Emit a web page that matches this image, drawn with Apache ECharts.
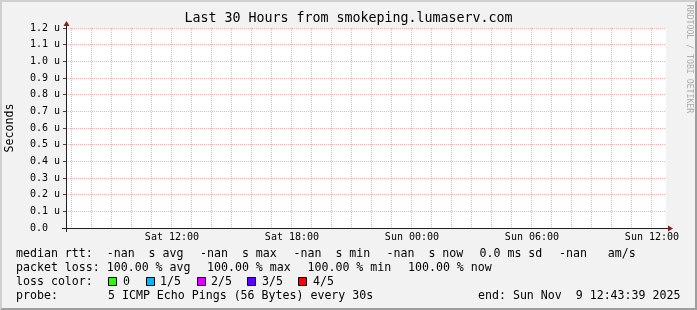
<!DOCTYPE html>
<html><head><meta charset="utf-8">
<script src="https://cdn.jsdelivr.net/npm/echarts@6/dist/echarts.min.js"></script>
<style>html,body{margin:0;padding:0;background:#f2f2f2}#c{width:697px;height:310px}</style>
</head><body><div id="c"></div>
<script>
// ---- data ----
const titleText = 'Last 30 Hours from smokeping.lumaserv.com';
const yAxisName = 'Seconds';
const watermark = 'RRDTOOL / TOBI OETIKER';
const yMin = 0, yMax = 1.2, yStep = 0.1;            // micro-seconds
const startHour = 6 + 43 / 60 + 39 / 3600;          // Sat 06:43:39 (hours from Sat 00:00)
const endHour = startHour + 30;                     // Sun 12:43:39
const minorGridHours = [7, 8, 10, 11, 13, 14, 16, 17, 19, 20, 22, 23, 25, 26, 28, 29, 31, 32, 34, 35];
const majorGridHours = [9, 12, 15, 18, 21, 24, 27, 30, 33, 36];
const xLabelHours = [12, 18, 24, 30, 36];
const xLabelTexts = ['Sat 12:00', 'Sat 18:00', 'Sun 00:00', 'Sun 06:00', 'Sun 12:00'];
const medianRtt = [];  // all samples -nan: nothing to draw
const legendRow1 = ['median rtt:  -nan  s avg', '-nan  s max', '-nan  s min', '-nan  s now', '0.0 ms sd', '-nan   am/s'];
const legendRow2 = ['packet loss: 100.00 % avg', '100.00 % max', '100.00 % min', '100.00 % now'];
const lossTitle = 'loss color:';
const lossLabels = ['0', '1/5', '2/5', '3/5', '4/5'];
const lossColors = ['#26ff00', '#00b8ff', '#dd00ff', '#5e00ff', '#ff0000'];
const probeRow = ['probe:', '5 ICMP Echo Pings (56 Bytes) every 30s', 'end: Sun Nov  9 12:43:39 2025'];

// ---- layout ----
const MONO = '"DejaVu Sans Mono", monospace';
const row1X = [16, 200, 293.5, 386.5, 479.5, 559];
const row2X = [16, 207, 307.5, 408];
const boxX = [108, 146, 197, 247, 298];
const lossLabelX = [123, 160, 211, 262, 313];
const probeX = [16, 108, 478];
const rowY = [253.5, 267.5, 281.5, 295.5];

const chart = echarts.init(document.getElementById('c'), null, {renderer: 'canvas'});

function txt(text, x, y, font, opts) {
  return {
    type: 'text', silent: true,
    style: Object.assign({text: text, x: x, y: y, font: font, fill: '#000', align: 'left', verticalAlign: 'middle'}, opts || {})
  };
}

const graphics = [];
// bevel frame
graphics.push({type: 'polygon', silent: true, shape: {points: [[0,0],[697,0],[695,2],[2,2],[2,308],[0,310]]}, style: {fill: '#cfcfcf'}});
graphics.push({type: 'polygon', silent: true, shape: {points: [[697,0],[697,310],[0,310],[2,308],[695,308],[695,2]]}, style: {fill: '#9e9e9e'}});
graphics.push(txt(titleText, 348.5, 19, '13.3px ' + MONO, {align: 'center'}));
graphics.push(Object.assign(txt(yAxisName, 0, 0, '11.6px ' + MONO, {align: 'center'}), {x: 10, y: 128, rotation: Math.PI / 2}));
graphics.push(Object.assign(txt(watermark, 0, 0, '8.2px ' + MONO, {align: 'center', fill: '#ababab'}), {x: 689, y: 59, rotation: -Math.PI / 2}));
legendRow1.forEach((t, i) => graphics.push(txt(t, row1X[i], rowY[0], '11.6px ' + MONO)));
legendRow2.forEach((t, i) => graphics.push(txt(t, row2X[i], rowY[1], '11.6px ' + MONO)));
graphics.push(txt(lossTitle, 16, rowY[2], '11.6px ' + MONO));
lossLabels.forEach((t, i) => {
  graphics.push({type: 'rect', silent: true, shape: {x: boxX[i] + 0.5, y: 277.5, width: 8, height: 8}, style: {fill: lossColors[i], stroke: '#000', lineWidth: 1}});
  graphics.push(txt(t, lossLabelX[i], rowY[2], '11.6px ' + MONO));
});
probeRow.forEach((t, i) => graphics.push(txt(t, probeX[i], rowY[3], '11.6px ' + MONO)));

const GRID = 'rgba(143,143,143,0.55)';
const MGRID = 'rgba(222,79,79,0.45)';
const AXIS = '#1f1f1f';
const ARROW = '#7f1f1f';

function renderFrame(params, api) {
  const children = [];
  const o = api.coord([startHour, yMin]);
  const e = api.coord([endHour, yMax]);
  const x0 = Math.round(o[0]), y0 = Math.round(o[1]);
  const x1 = Math.round(e[0]), yTop = Math.round(e[1]);
  const vline = (h, color) => {
    const x = Math.round(api.coord([h, 0])[0]) + 0.5;
    children.push({type: 'line', silent: true, shape: {x1: x, y1: yTop, x2: x, y2: y0}, style: {stroke: color, lineWidth: 1, lineDash: [1, 1]}});
  };
  minorGridHours.forEach(h => vline(h, GRID));
  majorGridHours.forEach(h => vline(h, MGRID));
  xLabelHours.forEach((h, i) => {
    const x = api.coord([h, 0])[0];
    children.push({type: 'text', silent: true, style: {text: xLabelTexts[i], x: x + 0.5, y: y0 + 9.5, font: '10px ' + MONO, fill: '#000', align: 'center', verticalAlign: 'middle'}});
  });
  // axes
  children.push({type: 'line', silent: true, shape: {x1: x0 - 4, y1: y0 + 0.5, x2: x1 + 4, y2: y0 + 0.5}, style: {stroke: AXIS, lineWidth: 1}});
  children.push({type: 'line', silent: true, shape: {x1: x0 + 0.5, y1: y0 + 4, x2: x0 + 0.5, y2: yTop - 4}, style: {stroke: AXIS, lineWidth: 1}});
  // arrows
  children.push({type: 'polygon', silent: true, shape: {points: [[x1 + 2, y0 - 2.5], [x1 + 2, y0 + 3.5], [x1 + 7, y0 + 0.5]]}, style: {fill: ARROW}});
  children.push({type: 'polygon', silent: true, shape: {points: [[x0 - 2.5, yTop - 2], [x0 + 3.5, yTop - 2], [x0 + 0.5, yTop - 7]]}, style: {fill: ARROW}});
  return {type: 'group', children: children};
}

chart.setOption({
  backgroundColor: '#f2f2f2',
  animation: false,
  grid: {left: 66, top: 28, width: 600, height: 200, show: true, backgroundColor: '#ffffff', borderWidth: 0},
  xAxis: {type: 'value', min: startHour, max: endHour, show: true,
    axisLine: {show: false}, axisTick: {show: false}, axisLabel: {show: false}, splitLine: {show: false}},
  yAxis: {type: 'value', min: yMin, max: yMax, interval: yStep,
    axisLine: {show: false},
    axisTick: {show: true, length: 3, lineStyle: {color: '#444'}},
    axisLabel: {show: true, align: 'left', margin: 36, fontFamily: 'DejaVu Sans Mono', fontSize: 10, color: '#000',
      formatter: v => Math.abs(v) < 1e-9 ? '0.0' : v.toFixed(1) + ' u'},
    splitLine: {show: true, lineStyle: {color: MGRID, width: 1, type: [1, 1]}}},
  series: [
    {type: 'line', name: 'median rtt', data: medianRtt, showSymbol: false, silent: true},
    {type: 'custom', silent: true, clip: false, data: [[startHour, 0]], renderItem: renderFrame, z: 5}
  ],
  graphic: graphics
});
</script></body></html>
